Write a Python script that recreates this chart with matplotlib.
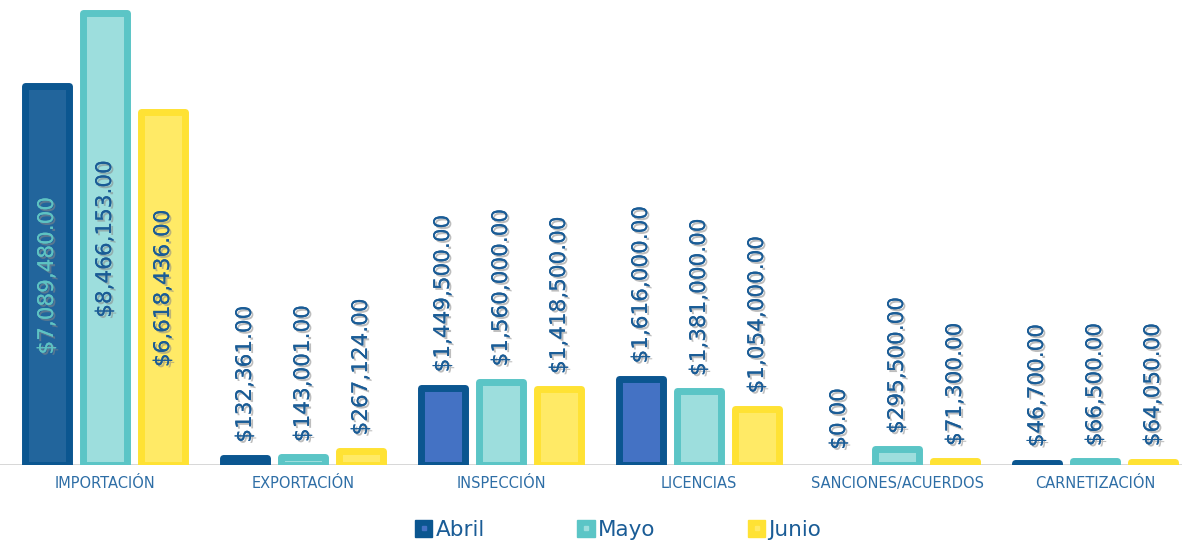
import matplotlib.pyplot as plt
import matplotlib.patheffects as pe
from matplotlib.patches import Patch
from matplotlib.lines import Line2D
import numpy as np

# data
categories = ["IMPORTACIÓN", "EXPORTACIÓN", "INSPECCIÓN", "LICENCIAS",
              "SANCIONES/ACUERDOS", "CARNETIZACIÓN"]
series_names = ["Abril", "Mayo", "Junio"]
abril = [7089480.00, 132361.00, 1449500.00, 1616000.00, 0.00, 46700.00]
mayo = [8466153.00, 143001.00, 1560000.00, 1381000.00, 295500.00, 66500.00]
junio = [6618436.00, 267124.00, 1418500.00, 1054000.00, 71300.00, 64050.00]
inside_label = [True, False, False, False, False, False]

edge_colors = ["#0b5690", "#5bc5c6", "#ffe234"]
fill_colors = ["#4472c4", "#9ddedd", "#ffea66"]
abril_first_fill = "#22659c"
label_color = "#1a5c96"
cat_color = "#2e6ea6"

plt.rcParams["font.family"] = ["DejaVu Sans"]

fig = plt.figure(figsize=(11.82, 5.40), dpi=100)
ax = fig.add_axes([0.0, 0.1389, 1.0, 0.8611])

x = np.arange(len(categories))
pitch = 0.293
width = 0.227
ymax = max(mayo) * 465 / 452

ax.axhline(0, color="#d4d4d4", lw=2, zorder=1)

shadow = [pe.withSimplePatchShadow(offset=(1.5, -1.5), shadow_rgbFace="#888888", alpha=0.55),
          pe.Normal()]

for i, vals in enumerate([abril, mayo, junio]):
    pos = x + (i - 1) * pitch
    fills = [fill_colors[i]] * len(vals)
    if i == 0:
        fills[0] = abril_first_fill
    bars = ax.bar(pos, vals, width=width, color=fills, edgecolor=edge_colors[i],
                  linewidth=[0 if v == 0 else 5 for v in vals], zorder=2)
    for b in bars:
        b.set_joinstyle("round")
    for j, v in enumerate(vals):
        txt = f"${v:,.2f}"
        if inside_label[j]:
            col = "#5ec3c3" if i == 0 else label_color
            ax.text(pos[j], v / 2, txt, rotation=90, ha="center", va="center",
                    fontsize=15.5, color=col, path_effects=shadow, zorder=3)
        else:
            ax.annotate(txt, (pos[j], v), xytext=(0, 11), textcoords="offset points",
                        rotation=90, ha="center", va="bottom", fontsize=15.5,
                        color=label_color, path_effects=shadow, zorder=3)

ax.set_xlim(-105 / 198, (1182 - 105) / 198)
ax.set_ylim(0, ymax)
ax.set_xticks(x)
ax.set_xticklabels(categories, fontsize=10.5, color=cat_color)
ax.tick_params(axis="x", length=0, pad=8)
ax.set_yticks([])
for s in ax.spines.values():
    s.set_visible(False)

# legend: solid square with a small lighter square inside
handles = [(Patch(facecolor=edge_colors[k], edgecolor=edge_colors[k]),
            Line2D([], [], marker="s", markersize=3, linestyle="",
                   color=fill_colors[k]))
           for k in range(3)]
leg = fig.legend(handles=handles, labels=series_names, loc="center",
                 bbox_to_anchor=(0.523, 0.019), ncol=3, frameon=False, fontsize=15.5,
                 handlelength=0.8, handleheight=0.85, handletextpad=0.15,
                 columnspacing=4.3, labelcolor=label_color)

fig.savefig("out.png", dpi=100)
